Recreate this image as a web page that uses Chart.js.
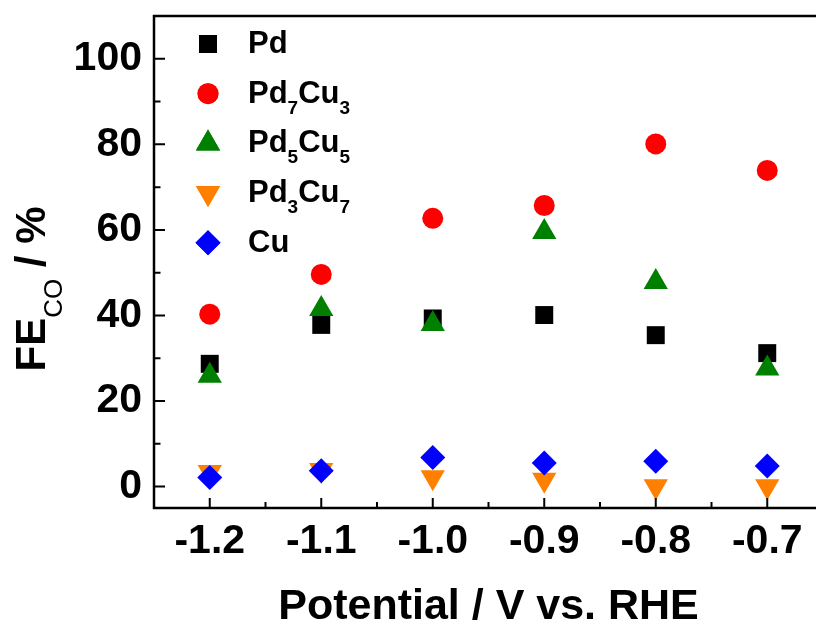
<!DOCTYPE html>
<html>
<head>
<meta charset="utf-8">
<script src="https://cdn.jsdelivr.net/npm/chart.js@4.4.1/dist/chart.umd.min.js"></script>
<style>
  html, body { margin: 0; padding: 0; background: #fff; overflow: hidden; }
  #wrap { width: 840px; height: 621px; }
</style>
</head>
<body>
<div id="wrap"><canvas id="feChart" width="840" height="621"></canvas></div>
<script>
// Potentials (V vs. RHE) and CO faradaic efficiency (%) per catalyst
const potentials = [-1.2, -1.1, -1.0, -0.9, -0.8, -0.7];
const fePd     = [28.7, 37.8, 39.3, 40.1, 35.4, 31.2];
const fePd7Cu3 = [40.3, 49.6, 62.7, 65.7, 80.1, 73.9];
const fePd5Cu5 = [25.9, 41.5, 38.0, 59.5, 47.8, 27.6];
const fePd3Cu7 = [3.4, 3.9, 2.2, 1.6, 0.1, 0.1];
const feCu     = [2.1, 3.7, 6.8, 5.5, 5.9, 4.8];

const xTicks = [-1.2, -1.1, -1.0, -0.9, -0.8, -0.7];
const yTicks = [0, 20, 40, 60, 80, 100];

const FONT = '"Liberation Sans", Arial, Helvetica, sans-serif';

function toPoints(ys) {
  return potentials.map((x, i) => ({ x: x, y: ys[i] }));
}

const series = [
  { label: 'Pd',     data: fePd,     color: '#000000', style: 'rect',     radius: 12.7, rotation: 0 },
  { label: 'Pd7Cu3', data: fePd7Cu3, color: '#ff0000', style: 'circle',   radius: 10.5, rotation: 0 },
  { label: 'Pd5Cu5', data: fePd5Cu5, color: '#008000', style: 'triangle', radius: 14,   rotation: 0 },
  { label: 'Pd3Cu7', data: fePd3Cu7, color: '#ff8000', style: 'triangle', radius: 14,   rotation: 180 },
  { label: 'Cu',     data: feCu,     color: '#0000ff', style: 'rectRot',  radius: 12.5, rotation: 0 }
];

// split "Pd7Cu3" into normal / subscript pieces
function chemParts(name) {
  return name.match(/[A-Za-z]+|\d+/g).map(p => ({ text: p, sub: /^\d+$/.test(p) }));
}

// frame, inward ticks, legend and axis titles
const decorPlugin = {
  id: 'decor',
  afterDraw(chart) {
    const ctx = chart.ctx;
    const a = chart.chartArea;
    const xs = chart.scales.x;
    const ys = chart.scales.y;

    ctx.save();
    ctx.strokeStyle = '#000';
    ctx.lineWidth = 2.5;
    ctx.beginPath();
    ctx.rect(a.left, a.top, a.right - a.left, a.bottom - a.top);
    ctx.stroke();

    ctx.lineWidth = 2;
    ctx.beginPath();
    yTicks.forEach(v => {
      const py = ys.getPixelForValue(v);
      ctx.moveTo(a.left, py); ctx.lineTo(a.left + 11, py);
      const pm = ys.getPixelForValue(v + 10);
      if (v + 10 < ys.max) { ctx.moveTo(a.left, pm); ctx.lineTo(a.left + 6.5, pm); }
    });
    xTicks.forEach(v => {
      const px = xs.getPixelForValue(v);
      ctx.moveTo(px, a.bottom); ctx.lineTo(px, a.bottom - 10);
      const pm = xs.getPixelForValue(v + 0.05);
      if (v + 0.05 < xs.max) { ctx.moveTo(pm, a.bottom); ctx.lineTo(pm, a.bottom - 6); }
    });
    const pl = xs.getPixelForValue(xTicks[0] - 0.05);
    if (xTicks[0] - 0.05 > xs.min) { ctx.moveTo(pl, a.bottom); ctx.lineTo(pl, a.bottom - 6); }
    ctx.stroke();

    // legend
    chart.data.datasets.forEach((ds, i) => {
      const cy = 44 + i * 49.7;
      ctx.fillStyle = ds.pointBackgroundColor;
      Chart.helpers.drawPoint(ctx, {
        pointStyle: ds.pointStyle, radius: ds.pointRadius,
        rotation: ds.pointRotation, borderWidth: 0
      }, 208, cy);
      ctx.fill();

      ctx.fillStyle = '#000';
      ctx.textBaseline = 'alphabetic';
      ctx.textAlign = 'left';
      let tx = 248;
      chemParts(ds.label).forEach(p => {
        ctx.font = p.sub ? 'bold 19px ' + FONT : 'bold 31px ' + FONT;
        ctx.fillText(p.text, tx, cy + 9 + (p.sub ? 11 : 0));
        tx += ctx.measureText(p.text).width;
      });
    });

    // x axis title
    ctx.fillStyle = '#000';
    ctx.font = 'bold 43px ' + FONT;
    ctx.textAlign = 'center';
    ctx.textBaseline = 'alphabetic';
    ctx.fillText('Potential / V vs. RHE', (a.left + a.right) / 2, 619);

    // y axis title with subscript
    const pieces = [
      { text: 'FE', font: 'bold 42px ' + FONT, dy: 0 },
      { text: 'CO', font: '26px ' + FONT, dy: 17 },
      { text: ' / %', font: 'bold 42px ' + FONT, dy: 0 }
    ];
    let total = 0;
    pieces.forEach(p => { ctx.font = p.font; p.w = ctx.measureText(p.text).width; total += p.w; });
    ctx.translate(45, 289);
    ctx.rotate(-Math.PI / 2);
    ctx.textAlign = 'left';
    let px = -total / 2;
    pieces.forEach(p => {
      ctx.font = p.font;
      ctx.fillText(p.text, px, p.dy);
      px += p.w;
    });
    ctx.restore();
  }
};

new Chart(document.getElementById('feChart'), {
  type: 'scatter',
  data: {
    datasets: series.map((s, i) => ({
      label: s.label,
      data: toPoints(s.data),
      pointStyle: s.style,
      pointRadius: s.radius,
      pointHoverRadius: s.radius,
      pointRotation: s.rotation,
      pointBackgroundColor: s.color,
      pointBorderColor: s.color,
      pointBorderWidth: 0,
      backgroundColor: s.color,
      borderColor: s.color,
      order: series.length - i
    }))
  },
  options: {
    responsive: false,
    animation: false,
    devicePixelRatio: 1,
    layout: { padding: { top: 16, right: 17, left: 0, bottom: 0 } },
    plugins: {
      legend: { display: false },
      tooltip: { enabled: false }
    },
    scales: {
      x: {
        type: 'linear',
        min: -1.25,
        max: -0.65,
        grid: { display: false, drawTicks: false },
        border: { display: false },
        afterBuildTicks: scale => { scale.ticks = xTicks.map(v => ({ value: v })); },
        afterFit: scale => {
          scale.height = 113;
          scale.paddingLeft = 0;
          scale.paddingRight = 0;
        },
        ticks: {
          autoSkip: false,
          maxRotation: 0,
          padding: 9,
          color: '#000',
          font: { family: FONT, size: 41, weight: 'bold' },
          callback: v => v.toFixed(1)
        }
      },
      y: {
        type: 'linear',
        min: -5,
        max: 110,
        grid: { display: false, drawTicks: false },
        border: { display: false },
        afterBuildTicks: scale => { scale.ticks = yTicks.map(v => ({ value: v })); },
        afterFit: scale => {
          scale.width = 154;
          scale.paddingTop = 0;
          scale.paddingBottom = 0;
        },
        ticks: {
          padding: 12,
          color: '#000',
          font: { family: FONT, size: 41, weight: 'bold' }
        }
      }
    }
  },
  plugins: [decorPlugin]
});
</script>
</body>
</html>
